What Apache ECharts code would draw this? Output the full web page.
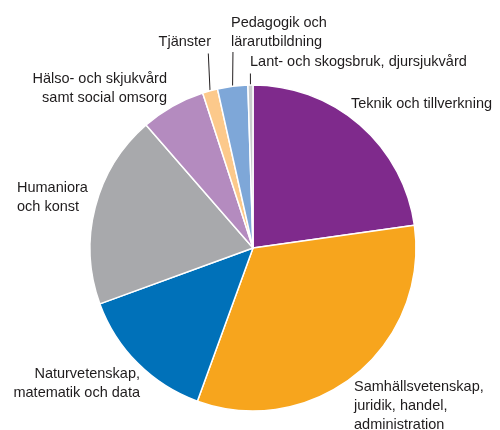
<!DOCTYPE html>
<html>
<head>
<meta charset="utf-8">
<script src="https://cdn.jsdelivr.net/npm/echarts@6/dist/echarts.min.js"></script>
<style>
  html, body { margin: 0; padding: 0; background: #fff; }
  #chart { width: 500px; height: 430px; }
</style>
</head>
<body>
<div id="chart"></div>
<script>
// andel per utbildningsområde (%)
const categories = [
  'Teknik och tillverkning',
  'Samhällsvetenskap,\njuridik, handel,\nadministration',
  'Naturvetenskap,\nmatematik och data',
  'Humaniora\noch konst',
  'Hälso- och skjukvård\nsamt social omsorg',
  'Tjänster',
  'Pedagogik och\nlärarutbildning',
  'Lant- och skogsbruk, djursjukvård'
]
const values = [22.8, 32.8, 13.9, 19.2, 6.4, 1.5, 3.0, 0.5]
const colors = ['#7f2a8c', '#f7a51d', '#0071b9', '#a8a9ac', '#b48bbf', '#fcc98b', '#7ea7d8', '#c9cbcd']

// label placement: x, y, align, padding (padding only used to centre the leader line)
const labelPos = [
  [351, 104, 'left', 0],
  [354, 406, 'left', 0],
  [140, 383, 'right', 0],
  [17, 197, 'left', 0],
  [167, 88, 'right', 0],
  [258, 42, 'right', [0, 47, 4, 0]],
  [139, 32, 'left', [0, 0, 2, 92]],
  [34, 62, 'left', [0, 0, 4, 216]]
]

const chart = echarts.init(document.getElementById('chart'))

const option = {
  backgroundColor: '#fff',
  series: [
    {
      type: 'pie',
      center: [253, 248],
      radius: 163,
      startAngle: 90,
      clockwise: true,
      avoidLabelOverlap: false,
      itemStyle: {
        borderColor: '#fff',
        borderWidth: 1.5
      },
      label: {
        show: true,
        position: 'outside',
        color: '#1f1c1d',
        fontFamily: 'Liberation Sans, Arial, sans-serif',
        fontSize: 14.5,
        lineHeight: 19
      },
      labelLine: {
        show: false,
        length: 10,
        length2: 0,
        lineStyle: { color: '#231f20', width: 1 }
      },
      labelLayout: (params) => {
        const p = labelPos[params.dataIndex]
        return {
          x: p[0],
          y: p[1],
          align: p[2],
          verticalAlign: 'middle'
        }
      },
      emphasis: { disabled: true },
      data: categories.map((name, i) => ({
        name,
        value: values[i],
        itemStyle: { color: colors[i] },
        label: { padding: labelPos[i][3] },
        labelLine: { show: labelPos[i][3] !== 0 }
      }))
    }
  ]
}

chart.setOption(option)
</script>
</body>
</html>
